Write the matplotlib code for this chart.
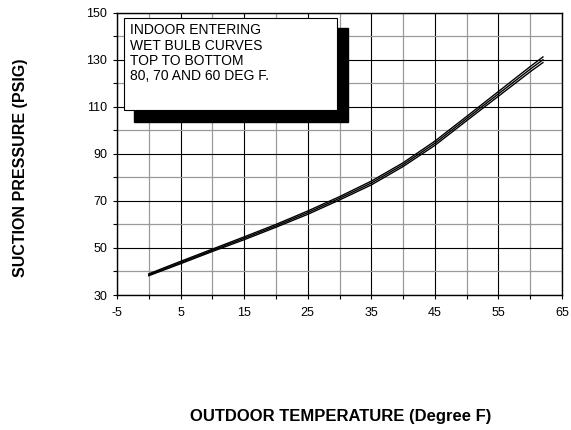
import matplotlib
matplotlib.use("Agg")
import matplotlib.pyplot as plt
from matplotlib.patches import Rectangle
from matplotlib.ticker import MultipleLocator

plt.rcParams['font.family'] = ['Liberation Sans', 'DejaVu Sans']

# Outdoor temperature (deg F)
outdoor_temp = [0, 5, 10, 15, 20, 25, 30, 35, 40, 45, 50, 55, 60, 62]
# Suction pressure (psig) for indoor entering wet bulb 80, 70, 60 deg F
wb80 = [39.0, 44.3, 49.5, 54.7, 60.0, 65.7, 71.8, 78.4, 86.2, 95.4, 105.9, 116.5, 127.1, 131.2]
wb70 = [38.6, 43.8, 49.0, 54.1, 59.4, 65.0, 71.1, 77.6, 85.4, 94.5, 105.0, 115.5, 126.0, 130.0]
wb60 = [38.2, 43.3, 48.5, 53.5, 58.8, 64.3, 70.4, 76.8, 84.6, 93.6, 104.1, 114.5, 124.9, 128.8]

x_ticks = [-5, 5, 15, 25, 35, 45, 55, 65]
y_ticks = [30, 50, 70, 90, 110, 130, 150]

fig = plt.figure(figsize=(5.71, 4.30), dpi=100)
ax = fig.add_axes([117/571, 1 - 295/430, 445/571, 282.3/430])

ax.set_xlim(-5, 65)
ax.set_ylim(30, 150)
ax.set_xticks(x_ticks)
ax.set_yticks(y_ticks)
ax.xaxis.set_minor_locator(MultipleLocator(10, offset=0))
ax.yaxis.set_minor_locator(MultipleLocator(10))
ax.set_xticklabels([str(v) for v in x_ticks], fontsize=9)
ax.set_yticklabels([str(v) for v in y_ticks], fontsize=9)
ax.tick_params(which='both', direction='out', length=3, width=0.8, color='black')
ax.tick_params(axis='x', pad=6)
ax.tick_params(axis='y', pad=4)
ax.grid(which='major', color='#000000', linewidth=0.8)
ax.grid(which='minor', color='#9a9a9a', linewidth=0.9)
ax.set_axisbelow(True)
for s in ax.spines.values():
    s.set_linewidth(1.0)
    s.set_color('black')

for series in (wb80, wb70, wb60):
    ax.plot(outdoor_temp, series, color='black', linewidth=1.0, zorder=3)

# Shadowed note box
ax.add_patch(Rectangle((0.038, 0.614), 0.481, 0.332, transform=ax.transAxes,
                       facecolor='black', edgecolor='black', zorder=4))
ax.add_patch(Rectangle((0.0157, 0.655), 0.478, 0.325, transform=ax.transAxes,
                       facecolor='white', edgecolor='black', linewidth=0.8, zorder=5))
ax.text(0.029, 0.962, "INDOOR ENTERING\nWET BULB CURVES\nTOP TO BOTTOM\n80, 70 AND 60 DEG F.",
        transform=ax.transAxes, ha='left', va='top', fontsize=10, linespacing=1.1, zorder=6)

fig.text(21/571, 1 - 168/430, "SUCTION PRESSURE (PSIG)", rotation=90, ha='center', va='center',
         fontsize=11.5, fontweight='bold')
fig.text(341/571, 1 - 416/430, "OUTDOOR TEMPERATURE (Degree F)", ha='center', va='center',
         fontsize=12, fontweight='bold')

fig.savefig("out.png", dpi=100)
